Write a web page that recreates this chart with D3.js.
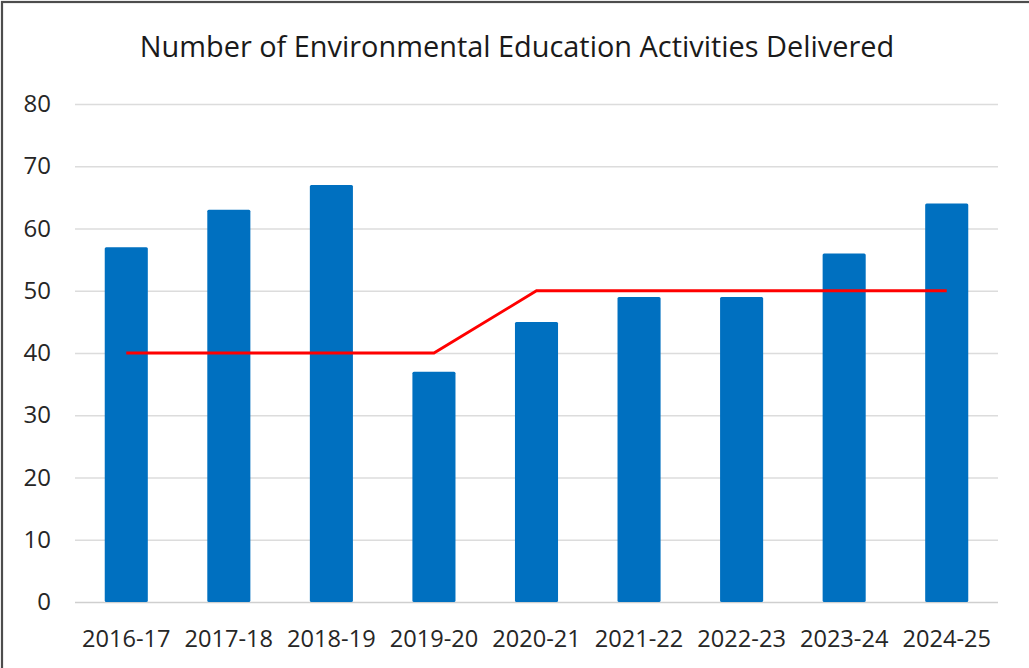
<!DOCTYPE html>
<html>
<head>
<meta charset="utf-8">
<script src="https://cdn.jsdelivr.net/npm/d3@7"></script>
<style>
  body { margin: 0; background: #fff; }
  svg { display: block; }
</style>
</head>
<body>
<script>
// data
const years = ["2016-17", "2017-18", "2018-19", "2019-20", "2020-21", "2021-22", "2022-23", "2023-24", "2024-25"]
const activities = [57, 63, 67, 37, 45, 49, 49, 56, 64]
const target = [40, 40, 40, 40, 50, 50, 50, 50, 50]
const yTicks = [0, 10, 20, 30, 40, 50, 60, 70, 80]
const title = "Number of Environmental Education Activities Delivered"

const width = 1029
const height = 668
const fontFamily = "'Open Sans', 'Noto Sans', sans-serif"
const margin = ({top: 104, right: 31, bottom: 66, left: 75})

const svg = d3.select("body").append("svg")
    .attr("width", width)
    .attr("height", height)

svg.append("rect")
    .attr("width", width)
    .attr("height", height)
    .attr("fill", "#fff")

// outer frame (only top and left edges show in the picture)
svg.append("rect")
    .attr("x", 2)
    .attr("y", 2)
    .attr("width", width + 20)
    .attr("height", height + 20)
    .attr("fill", "none")
    .attr("stroke", "#4d4d4d")
    .attr("stroke-width", 2.2)

const x = d3.scaleBand()
    .domain(years)
    .range([margin.left, width - margin.right])
    .paddingInner(0.58)
    .paddingOuter(0.29)

const y = d3.scaleLinear()
    .domain([0, 80])
    .range([height - margin.bottom, margin.top])

// gridlines + y labels
const yAxis = g => g
    .attr("transform", `translate(${margin.left},0)`)
    .call(d3.axisLeft(y).tickValues(yTicks).tickSize(-(width - margin.left - margin.right)).tickPadding(24))
    .call(g => g.select(".domain").remove())
    .call(g => g.selectAll(".tick line")
        .attr("stroke", d => d === 0 ? "#cfcfcf" : "#dcdcdc")
        .attr("stroke-width", 1.6))
    .call(g => g.selectAll(".tick text")
        .attr("font-family", fontFamily)
        .attr("font-size", 24)
        .attr("fill", "#262626"))

svg.append("g").call(yAxis)

// bars
svg.append("g")
  .selectAll("rect")
  .data(activities)
  .join("rect")
    .attr("x", (d, i) => x(years[i]))
    .attr("y", d => y(d))
    .attr("width", x.bandwidth())
    .attr("height", d => y(0) - y(d))
    .attr("rx", 1.5)
    .attr("fill", "#0070c0")

// target line
const line = d3.line()
    .x((d, i) => x(years[i]) + x.bandwidth() / 2)
    .y(d => y(d))

svg.append("path")
    .datum(target)
    .attr("d", line)
    .attr("fill", "none")
    .attr("stroke", "#ff0000")
    .attr("stroke-width", 2.8)

// x labels
const xAxis = g => g
    .attr("transform", `translate(0,${height - margin.bottom})`)
    .call(d3.axisBottom(x).tickSize(0).tickPadding(28))
    .call(g => g.select(".domain").remove())
    .call(g => g.selectAll(".tick text")
        .attr("font-family", fontFamily)
        .attr("font-size", 23.6)
        .attr("fill", "#262626"))

svg.append("g").call(xAxis)

// title
svg.append("text")
    .attr("x", 517)
    .attr("y", 57)
    .attr("text-anchor", "middle")
    .attr("font-family", fontFamily)
    .attr("font-size", 28.9)
    .attr("fill", "#1a1a1a")
    .text(title)
</script>
</body>
</html>
